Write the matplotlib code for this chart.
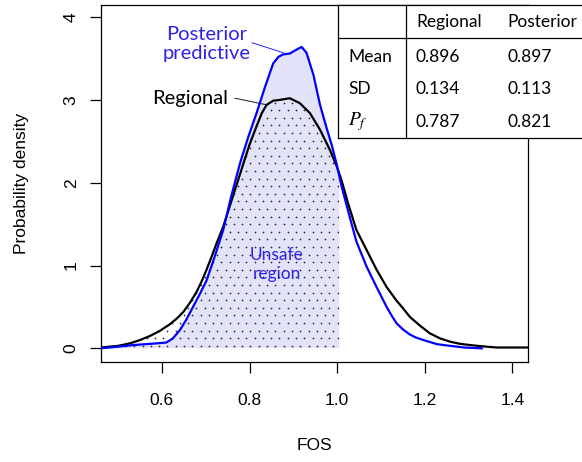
import numpy as np
import matplotlib
matplotlib.use('Agg')
import matplotlib.pyplot as plt
from matplotlib.lines import Line2D
from matplotlib.patches import Rectangle

# 数据
fos_regional = [0.46, 0.50, 0.527, 0.55, 0.573, 0.595, 0.618, 0.634, 0.649, 0.664, 0.679, 0.69,
                0.702, 0.713, 0.725, 0.74, 0.763, 0.786, 0.80, 0.816, 0.828, 0.839, 0.854, 0.869,
                0.892, 0.915, 0.938, 0.961, 0.984, 0.999, 1.01, 1.025, 1.044, 1.067, 1.09,
                1.113, 1.135, 1.151, 1.166, 1.19, 1.212, 1.235, 1.258, 1.28, 1.303, 1.33, 1.364, 1.435]
pdf_regional = [0.01, 0.03, 0.06, 0.10, 0.15, 0.21, 0.29, 0.36, 0.44, 0.55, 0.68, 0.80,
                0.95, 1.10, 1.27, 1.47, 1.85, 2.23, 2.46, 2.68, 2.84, 2.94, 2.99, 3.00,
                3.02, 2.96, 2.84, 2.64, 2.39, 2.20, 2.03, 1.75, 1.43, 1.19, 0.95,
                0.74, 0.58, 0.48, 0.38, 0.27, 0.18, 0.12, 0.08, 0.055, 0.04, 0.025, 0.01, 0.01]

fos_post = [0.46, 0.50, 0.535, 0.575, 0.61, 0.625, 0.641, 0.656, 0.671, 0.686, 0.702, 0.72,
            0.74, 0.758, 0.778, 0.797, 0.816, 0.835, 0.854, 0.866, 0.877, 0.892, 0.905, 0.919,
            0.93, 0.946, 0.961, 0.976, 0.988, 0.999, 1.01, 1.029, 1.044, 1.067, 1.09, 1.113,
            1.125, 1.136, 1.15, 1.165, 1.18, 1.197, 1.228, 1.258, 1.29, 1.33]
pdf_post = [0.0, 0.02, 0.04, 0.055, 0.07, 0.12, 0.22, 0.35, 0.50, 0.65, 0.82, 1.1,
            1.43, 1.83, 2.23, 2.55, 2.84, 3.15, 3.44, 3.52, 3.55, 3.56, 3.60, 3.64,
            3.57, 3.30, 2.94, 2.66, 2.45, 2.22, 1.96, 1.58, 1.29, 0.99, 0.74, 0.50,
            0.39, 0.30, 0.23, 0.17, 0.13, 0.10, 0.05, 0.03, 0.01, 0.0]

fos_limit = 1.005   # 失效区域上限

tab_cols = ['', 'Regional', 'Posterior']
tab_rows = ['Mean', 'SD', '$P_f$']
tab_regional = ['0.896', '0.134', '0.787']
tab_posterior = ['0.897', '0.113', '0.821']

blue_line = '#0000ff'
blue_text = '#2f22e6'
lavender = '#e2e2f9'

W, H = 582, 462
fig = plt.figure(figsize=(W / 100, H / 100), dpi=100)
ax = fig.add_axes([101 / W, 1 - 362 / H, 426.7 / W, 357 / H])
xlim = (0.461, 1.435)
ylim = (-0.165, 4.146)

xr = np.array(fos_regional); yr = np.array(pdf_regional)
xp = np.array(fos_post); yp = np.array(pdf_post)

# 失效区域
xpf = np.append(xp[xp < fos_limit], fos_limit)
ypf = np.append(yp[xp < fos_limit], np.interp(fos_limit, xp, yp))
ax.fill_between(xpf, 0, ypf, facecolor=lavender, edgecolor='none', zorder=1)
xrf = np.append(xr[xr < fos_limit], fos_limit)
yrf = np.append(yr[xr < fos_limit], np.interp(fos_limit, xr, yr))
reg_poly = ax.fill_between(xrf, 0, yrf, facecolor='none', edgecolor='none', zorder=2)

# 点状纹理 (约8像素间距)
px_per_x = 426.7 / (xlim[1] - xlim[0])
px_per_y = 357 / (ylim[1] - ylim[0])
gx = np.arange(xlim[0], fos_limit, 8.3 / px_per_x)
gy = np.arange(0.03, 3.1, 7.6 / px_per_y)
dots_x, dots_y = [], []
for k, yy in enumerate(gy):
    shift = 0.5 * 8.3 / px_per_x if k % 2 else 0
    dots_x.extend(gx + shift)
    dots_y.extend([yy] * len(gx))
dots = ax.scatter(dots_x, dots_y, s=1.5, color='#222222', linewidths=0, zorder=2)
dots.set_clip_path(reg_poly.get_paths()[0], ax.transData)

ax.plot(xr, yr, color='black', lw=1.6, zorder=3)
ax.plot(xp, yp, color=blue_line, lw=1.6, zorder=4)

ax.set_xlim(*xlim)
ax.set_ylim(*ylim)
ax.set_xticks([0.6, 0.8, 1.0, 1.2, 1.4])
ax.set_xticklabels(['0.6', '0.8', '1.0', '1.2', '1.4'])
ax.set_yticks([0, 1, 2, 3, 4])
tickfont = 'Liberation Sans'
ax.tick_params(axis='both', direction='out', length=8, width=0.9, labelsize=12.5)
ax.tick_params(axis='x', pad=14)
ax.tick_params(axis='y', pad=8)
for lab in ax.get_xticklabels():
    lab.set_family(tickfont)
for lab in ax.get_yticklabels():
    lab.set_family(tickfont)
    lab.set_rotation(90)
    lab.set_va('center')
for s in ax.spines.values():
    s.set_linewidth(0.9)

fig.text(314 / W, 1 - 446 / H, 'FOS', family=tickfont, fontsize=12.5, ha='center', va='center')
fig.text(22 / W, 1 - 183 / H, 'Probability density', family=tickfont, fontsize=12.5,
         ha='center', va='center', rotation=90)

# 注释
lab_font = 'Lato'
ax.text(0.703, 3.675, 'Posterior\npredictive', color=blue_text, family=lab_font, fontsize=14.5,
        ha='center', va='center', linespacing=1.15)
ax.plot([0.806, 0.877], [3.69, 3.57], color=blue_line, lw=0.6)
ax.text(0.665, 3.02, 'Regional', color='black', family=lab_font, fontsize=14.5, ha='center', va='center')
ax.plot([0.767, 0.84], [3.02, 2.94], color='#333333', lw=0.8)
ax.text(0.862, 1.01, 'Unsafe\nregion', color=blue_text, family=lab_font, fontsize=12.5,
        ha='center', va='center', linespacing=1.2, zorder=5)

# 表格
def fx(px):
    return px / W
def fy(py):
    return 1 - py / H

tl, tsep, tr, ttop, thead, tbot = 338, 406, 582, 5, 38, 138
fig.add_artist(Rectangle((fx(tl), fy(tbot)), fx(tr) - fx(tl), fy(ttop) - fy(tbot),
                         transform=fig.transFigure, facecolor='white', edgecolor='none', zorder=5))
for (x0, y0, x1, y1) in [(tl, ttop, tr, ttop), (tl, thead, tr, thead), (tl, tbot, tr, tbot),
                         (tl, ttop, tl, tbot), (tsep, ttop, tsep, tbot)]:
    fig.add_artist(Line2D([fx(x0), fx(x1)], [fy(y0), fy(y1)], transform=fig.transFigure,
                          color='black', lw=0.9, zorder=6))

row_y = [57, 89, 122]
col_x = [348, 416, 507]
fig.text(fx(col_x[1]), fy(22), tab_cols[1], family=lab_font, fontsize=12.5, va='center', zorder=7)
fig.text(fx(col_x[2]), fy(22), tab_cols[2], family=lab_font, fontsize=12.5, va='center', zorder=7)
for i in range(len(tab_rows)):
    if tab_rows[i].startswith('$'):
        fig.text(fx(col_x[0]), fy(row_y[i]), tab_rows[i], fontsize=14, va='center',
                 math_fontfamily='stix', zorder=7)
    else:
        fig.text(fx(col_x[0]), fy(row_y[i]), tab_rows[i], family=lab_font, fontsize=12.5, va='center', zorder=7)
    fig.text(fx(col_x[1]), fy(row_y[i]), tab_regional[i], family=lab_font, fontsize=12.5, va='center', zorder=7)
    fig.text(fx(col_x[2]), fy(row_y[i]), tab_posterior[i], family=lab_font, fontsize=12.5, va='center', zorder=7)

fig.savefig('out.png', dpi=100)
